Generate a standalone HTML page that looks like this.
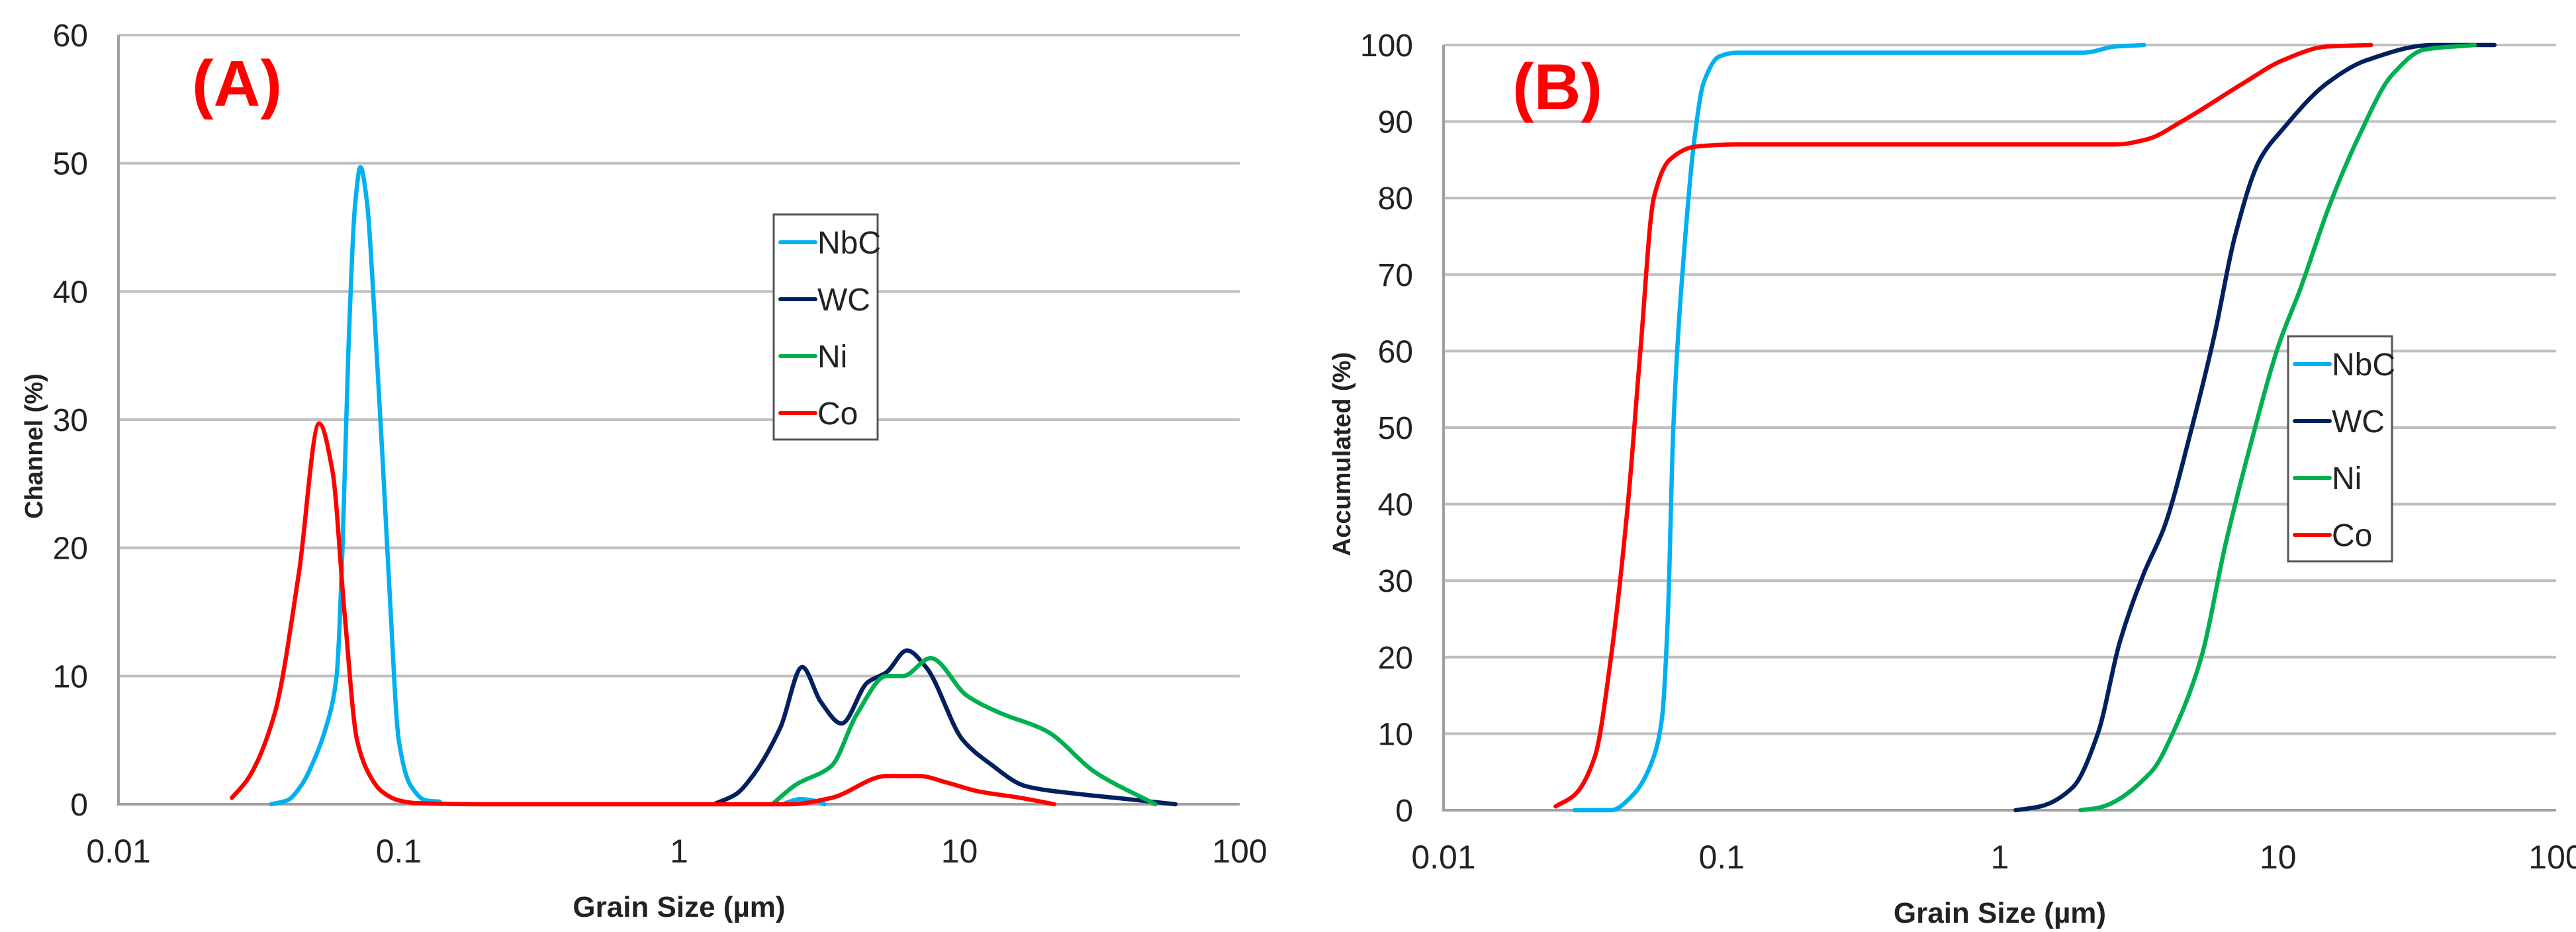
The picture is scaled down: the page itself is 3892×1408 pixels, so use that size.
<!DOCTYPE html>
<html><head><meta charset="utf-8"><style>
html,body{margin:0;padding:0;background:#fff;}
svg{display:block;}
text{font-family:"Liberation Sans Narrow","Liberation Sans",sans-serif;}
</style></head><body>
<svg id="fig" width="3892" height="1408" viewBox="0 0 3892 1408" xmlns="http://www.w3.org/2000/svg"></svg>
<script>
// ---- data ----
const seriesNames = ["NbC","WC","Ni","Co"];
const seriesColors = ["#00b0f0","#002060","#00b050","#ff0000"];
const xTickLabels = ["0.01","0.1","1","10","100"];
const yTicksA = [0,10,20,30,40,50,60];
const yTicksB = [0,10,20,30,40,50,60,70,80,90,100];

// Chart A (channel %)
const nbcAx = [0.035,0.04,0.045,0.05,0.055,0.06,0.063,0.066,0.07,0.073,0.077,0.082,0.088,0.093,0.1,0.11,0.125,0.14];
const nbcAy = [0,0.3,1.5,3.5,6,10,20,35,47,49.7,47,38,26,16,5,1.5,0.3,0.2];
const nbcAx2 = [2.4,2.7,3.0,3.3];
const nbcAy2 = [0.1,0.4,0.3,0];
const wcAx = [1.33,1.6,1.8,2.3,2.75,3.2,3.8,4.7,5.5,6.5,7.6,10.3,12.8,17.3,26.6,40,59];
const wcAy = [0,0.8,2,6,10.7,8,6.3,9.5,10.3,12,10.7,5,3.2,1.4,0.8,0.4,0];
const niAx = [2.15,2.6,3.5,4.3,5.5,6.3,7.9,10.6,13.7,20.5,30.5,50];
const niAy = [0,1.5,3,7,10,10,11.4,8.5,7.2,5.7,2.5,0];
const coAx = [0.0254,0.029,0.036,0.044,0.052,0.058,0.064,0.071,0.08,0.087,0.1,0.114,0.2,1,2.5,3.5,5.5,7.2,9,11.7,16.5,21.8];
const coAy = [0.5,2,7,18,29.7,26,15,5,2,1,0.3,0.1,0,0,0,0.5,2.2,2.2,1.7,1,0.5,0];

// Chart B (accumulated %)
const nbcBx = [0.0296,0.04,0.048,0.057,0.061,0.064,0.067,0.074,0.08,0.086,0.098,0.113,0.5,2.0,2.6,3.3];
const nbcBy = [0,0,2,7,12,25,50,75,88,95,98.5,99,99,99,99.8,100];
const wcBx = [1.14,1.4,1.83,2.25,2.7,3.3,3.9,4.9,5.9,7.0,8.6,10.4,15,20.8,36,60];
const wcBy = [0,0.5,3,10,22,31,37,50,62,75,85,89,95,98,100,100];
const niBx = [1.95,2.25,3.5,4.3,5.3,6.5,8,10.1,12,15.3,19.5,25.6,33.6,51];
const niBy = [0,0.3,5,11,20,35,48,61,68,79,88,96,99.4,100];
const coBx = [0.0253,0.0296,0.035,0.04,0.046,0.051,0.057,0.065,0.08,0.113,1,2.6,3.4,4.5,7.5,10.4,15,21.6];
const coBy = [0.5,2,7,20,40,60,80,85,86.7,87,87,87,87.7,90,95,98,99.8,100];

// ---- drawing ----
const NS="http://www.w3.org/2000/svg";
const svg=document.getElementById('fig');
function mk(tag,attrs,parent){const e=document.createElementNS(NS,tag);for(const k in attrs)e.setAttribute(k,attrs[k]);(parent||svg).appendChild(e);return e;}
function smooth(pts){
  const n=pts.length;
  const dx=[],dy=[],m=[];
  for(let i=0;i<n-1;i++){dx.push(pts[i+1][0]-pts[i][0]);dy.push(pts[i+1][1]-pts[i][1]);m.push(dy[i]/dx[i]);}
  const t=new Array(n);
  t[0]=m[0];t[n-1]=m[n-2];
  for(let i=1;i<n-1;i++){
    if(m[i-1]*m[i]<=0)t[i]=0;
    else{const w1=2*dx[i]+dx[i-1],w2=dx[i]+2*dx[i-1];t[i]=(w1+w2)/(w1/m[i-1]+w2/m[i]);}
  }
  let d="M"+pts[0][0].toFixed(1)+","+pts[0][1].toFixed(1);
  for(let i=0;i<n-1;i++){
    const h=dx[i]/3;
    d+=` C${(pts[i][0]+h).toFixed(1)},${(pts[i][1]+t[i]*h).toFixed(1)} ${(pts[i+1][0]-h).toFixed(1)},${(pts[i+1][1]-t[i+1]*h).toFixed(1)} ${pts[i+1][0].toFixed(1)},${pts[i+1][1].toFixed(1)}`;
  }
  return d;
}
function chart(cfg){
  const g=mk('g',{});
  
  
  const xs=v=>cfg.L+(Math.log10(v)+2)/4*(cfg.R-cfg.L);
  const ys=v=>cfg.B-v/cfg.ymax*(cfg.B-cfg.T);
  cfg.yTicks.forEach(t=>{
    if(t>0){const l=mk('line',{x1:cfg.L,x2:cfg.R,y1:ys(t),y2:ys(t),stroke:'#bfbfbf','stroke-width':4},g);
      
      }
    const tx=mk('text',{x:cfg.L-46,y:ys(t)+17,'text-anchor':'end','font-size':48,fill:'#222'},g);
    tx.textContent=t;
    
    
  });
  const ax=mk('polyline',{points:`${cfg.L},${cfg.T} ${cfg.L},${cfg.B} ${cfg.R},${cfg.B}`,fill:'none',stroke:'#a0a0a0','stroke-width':4},g);
  
  
  xTickLabels.forEach(s=>{
    const tx=mk('text',{x:xs(parseFloat(s)),y:cfg.B+88,'text-anchor':'middle','font-size':50,fill:'#222'},g);
    tx.textContent=s;
    
    
  });
  const xt=mk('text',{x:(cfg.L+cfg.R)/2,y:cfg.B+170,'text-anchor':'middle','font-size':44,'font-weight':'bold',fill:'#222'},g);
  xt.textContent="Grain Size (µm)";
  
  
  const yt=mk('text',{x:0,y:0,transform:`translate(${cfg.ytx},${(cfg.T+cfg.B)/2+40}) rotate(-90)`,'text-anchor':'middle','font-size':38,'font-weight':'bold',fill:'#222','font-family':'Liberation Sans, sans-serif'},g);
  yt.textContent=cfg.ytitle;
  
  
  cfg.series.forEach((s,i)=>{
    s.forEach(([xa,ya])=>{
      const p=mk('path',{d:smooth(xa.map((x,j)=>[xs(x),ys(ya[j])])),fill:'none',stroke:seriesColors[i],'stroke-width':6.5,'stroke-linejoin':'round','stroke-linecap':'round'},g);
      
      
    });
  });
  const lg=mk('g',{},g);
  
  
  mk('rect',{x:cfg.lx,y:cfg.ly,width:157,height:340,fill:'#fff',stroke:'#555','stroke-width':3},lg);
  seriesNames.forEach((n,i)=>{
    const yy=cfg.ly+42+i*86;
    const sw=mk('line',{x1:cfg.lx+10,x2:cfg.lx+63,y1:yy,y2:yy,stroke:seriesColors[i],'stroke-width':6,'stroke-linecap':'round'},lg);
    
    
    const t=mk('text',{x:cfg.lx+66,y:yy+17,'font-size':48,fill:'#222'},lg);
    t.textContent=n;
    
    
  });
  const lab=mk('text',{x:cfg.labx,y:cfg.laby,'font-size':98,'font-weight':'bold',fill:'#ff0000','font-family':'Liberation Serif, serif'},g);
  lab.textContent=cfg.label;
  
  
}
chart({name:'chart-a-channel',L:179,R:1873,T:53,B:1215,ymax:60,yTicks:yTicksA,ytitle:'Channel (%)',ytx:64,
  series:[[[nbcAx,nbcAy],[nbcAx2,nbcAy2]],[[wcAx,wcAy]],[[niAx,niAy]],[[coAx,coAy]]],
  lx:1169,ly:324,label:'(A)',labx:290,laby:160});
chart({name:'chart-b-accumulated',L:2181,R:3862,T:68,B:1224,ymax:100,yTicks:yTicksB,ytitle:'Accumulated (%)',ytx:2040,
  series:[[[nbcBx,nbcBy]],[[wcBx,wcBy]],[[niBx,niBy]],[[coBx,coBy]]],
  lx:3457,ly:508,label:'(B)',labx:2285,laby:165});
</script>
</body></html>
